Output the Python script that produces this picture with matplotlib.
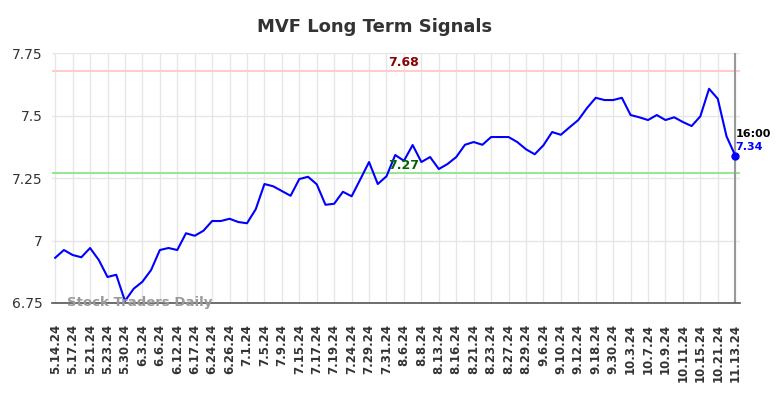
import numpy as np
import matplotlib.pyplot as plt

# Closing prices (two points per labelled date)
prices = [
    6.931, 6.962, 6.942, 6.933, 6.970, 6.922, 6.854, 6.863, 6.758, 6.807,
    6.835, 6.882, 6.962, 6.970, 6.962, 7.029, 7.019, 7.039, 7.078, 7.078,
    7.087, 7.074, 7.069, 7.125, 7.226, 7.217, 7.198, 7.179, 7.246, 7.255,
    7.225, 7.143, 7.147, 7.195, 7.177, 7.245, 7.314, 7.226, 7.257, 7.342,
    7.319, 7.382, 7.314, 7.334, 7.286, 7.306, 7.334, 7.383, 7.394, 7.383,
    7.414, 7.414, 7.414, 7.394, 7.365, 7.345, 7.381, 7.434, 7.423, 7.453,
    7.482, 7.530, 7.571, 7.562, 7.562, 7.571, 7.502, 7.493, 7.482, 7.502,
    7.482, 7.493, 7.474, 7.458, 7.497, 7.607, 7.567, 7.417, 7.340,
]

date_labels = [
    "5.14.24", "5.17.24", "5.21.24", "5.23.24", "5.30.24", "6.3.24", "6.6.24",
    "6.12.24", "6.17.24", "6.24.24", "6.26.24", "7.1.24", "7.5.24", "7.9.24",
    "7.15.24", "7.17.24", "7.19.24", "7.24.24", "7.29.24", "7.31.24", "8.6.24",
    "8.8.24", "8.13.24", "8.16.24", "8.21.24", "8.23.24", "8.27.24", "8.29.24",
    "9.6.24", "9.10.24", "9.12.24", "9.18.24", "9.30.24", "10.3.24", "10.7.24",
    "10.9.24", "10.11.24", "10.15.24", "10.21.24", "11.13.24",
]

resistance = 7.68
support = 7.27
last_time = "16:00"
y_ticks = [6.75, 7.0, 7.25, 7.5, 7.75]
y_tick_labels = ["6.75", "7", "7.25", "7.5", "7.75"]

x = np.arange(len(prices))
tick_pos = x[::2]

fig = plt.figure(figsize=(7.84, 3.98), dpi=100)
ax = fig.add_axes([0.0663, 0.2387, 0.8776, 0.628])

# grid
ax.set_xticks(tick_pos)
ax.set_xticklabels(date_labels, rotation=90, fontsize=8.5, fontweight="bold", color="#333333")
ax.set_yticks(y_ticks)
ax.set_yticklabels(y_tick_labels, fontsize=10, color="#333333")
ax.grid(True, color="#e6e6e6", linewidth=1)
ax.set_axisbelow(True)
ax.tick_params(length=0)
ax.tick_params(axis="x", pad=15)
ax.tick_params(axis="y", pad=7)

# support / resistance
ax.axhline(resistance, color="#ffcccc", linewidth=1.5)
ax.axhline(support, color="#99e699", linewidth=1.5)
ax.axvline(x[-1], color="#999999", linewidth=1.5)

ax.plot(x, prices, color="#0000ff", linewidth=1.5)
ax.plot(x[-1], prices[-1], "o", color="#0000ff", markersize=5)

ax.text(40, resistance + 0.006, f"{resistance:.2f}", color="#8b0000",
        fontsize=9, fontweight="bold", ha="center", va="bottom")
ax.text(40, support + 0.006, f"{support:.2f}", color="#006400",
        fontsize=9, fontweight="bold", ha="center", va="bottom")
ax.text(x[-1], prices[-1] + 0.066, last_time, color="black",
        fontsize=8, fontweight="bold", ha="left", va="bottom")
ax.text(x[-1], prices[-1] + 0.014, f"{prices[-1]:.2f}", color="#0000ff",
        fontsize=8, fontweight="bold", ha="left", va="bottom")

ax.text(1.3, 6.753, "Stock Traders Daily", color="#999999", fontsize=9.5,
        fontweight="bold", ha="left", va="center")

ax.set_xlim(-0.37, 78.55)
ax.set_ylim(6.75, 7.75)
for side in ["left", "right", "top"]:
    ax.spines[side].set_visible(False)
ax.spines["bottom"].set_color("#555555")
ax.spines["bottom"].set_linewidth(1.2)

fig.suptitle("MVF Long Term Signals", x=0.478, y=0.955, fontsize=13,
             fontweight="bold", color="#333333")

fig.savefig("out.png", dpi=100)
